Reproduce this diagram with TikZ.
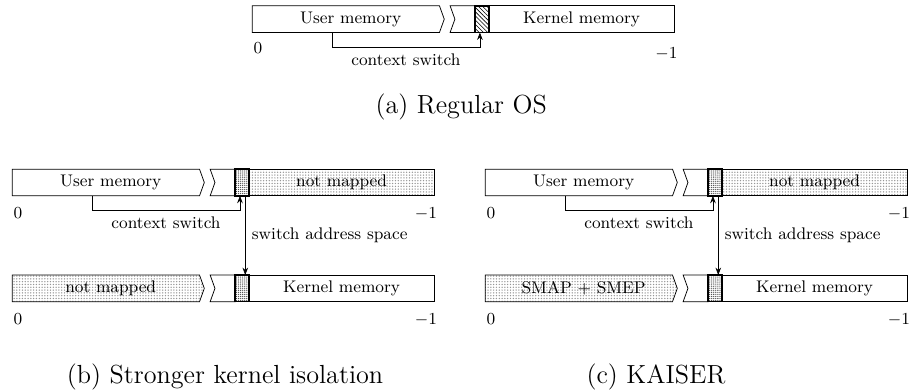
\documentclass[tikz,border=0pt]{standalone}
\usepackage{tikz}
\usetikzlibrary{positioning,patterns.meta,arrows.meta}
\definecolor{dotgray}{RGB}{150,150,150}
\definecolor{guardgray}{RGB}{70,70,70}

\tikzset{
  addrlabel/.style={font=\small, inner sep=0pt},
  caption/.style={font=\fontsize{14}{16}\selectfont},
  unmapped/.style={draw, pattern={Dots[distance=1.5pt,radius=0.4pt]}, pattern color=dotgray},
  guard/.style={draw, thick, pattern={Dots[distance=1.1pt,radius=0.35pt]}, pattern color=guardgray},
  swguard/.style={draw, thick, pattern={Lines[angle=-45,distance=1.6pt,line width=0.3pt]}},
}

\begin{document}
\begin{tikzpicture}[>={Stealth[length=4pt,width=3pt]}]
\useasboundingbox (0,0) rectangle (17.16,-7.35);

% (a) Regular OS: one address space
\begin{scope}[shift={(4.74,-0.11)}]
  \draw (0,0) -- (3.52,0) -- (3.61,-0.25) -- (3.52,-0.5) -- (0,-0.5) -- cycle;
  \draw (3.72,0) -- (4.19,0) -- (4.19,-0.5) -- (3.72,-0.5) -- (3.81,-0.25) -- cycle;
  \draw[swguard] (4.19,0) rectangle (4.45,-0.5);
  \draw (4.45,0) rectangle (7.93,-0.5);
  \node (a-user) at (1.85,-0.25) {\small User memory};
  \node (a-kernel) at (6.19,-0.25) {\small Kernel memory};
  \node[addrlabel, anchor=north west] (a-zero) at (0.02,-0.69) {$0$};
  \node[addrlabel, anchor=north east] (a-end) at (8.0,-0.78) {$-1$};
  \coordinate (a-from) at (1.5,-0.5);
  \coordinate (a-low) at (1.5,-0.78);
  \coordinate (a-to) at (4.28,-0.5);
\end{scope}
\draw[->] (a-from) -- (a-low) -| node[pos=0.25, below, font=\small] (a-cs) {context switch} (a-to);
\node[caption] (a-cap) at (8.67,-2.01) {(a) Regular OS};

% (b) and (c): user view on top, kernel view below
\foreach \p/\ox/\low in {b/0.23/not mapped, c/9.12/SMAP + SMEP} {
  % user address space
  \begin{scope}[shift={(\ox,-3.18)}]
    \draw (0,0) -- (3.52,0) -- (3.61,-0.25) -- (3.52,-0.5) -- (0,-0.5) -- cycle;
    \draw (3.72,0) -- (4.19,0) -- (4.19,-0.5) -- (3.72,-0.5) -- (3.81,-0.25) -- cycle;
    \draw[guard] (4.19,0) rectangle (4.45,-0.5);
    \draw[unmapped] (4.45,0) rectangle (7.93,-0.5);
    \node (\p-user) at (1.85,-0.25) {\small User memory};
    \node (\p-nm) at (6.19,-0.25) {\small not mapped};
    \node[addrlabel, anchor=north west] (\p-zero) at (0.02,-0.71) {$0$};
    \node[addrlabel, anchor=north east] (\p-end) at (7.99,-0.71) {$-1$};
    \coordinate (\p-from) at (1.5,-0.5);
    \coordinate (\p-low) at (1.5,-0.78);
    \coordinate (\p-to) at (4.28,-0.5);
    \coordinate (\p-sw) at (4.38,-0.5);
  \end{scope}
  % kernel address space
  \begin{scope}[shift={(\ox,-5.17)}]
    \draw[unmapped] (0,0) -- (3.52,0) -- (3.61,-0.25) -- (3.52,-0.5) -- (0,-0.5) -- cycle;
    \draw (3.72,0) -- (4.19,0) -- (4.19,-0.5) -- (3.72,-0.5) -- (3.81,-0.25) -- cycle;
    \draw[guard] (4.19,0) rectangle (4.45,-0.5);
    \draw (4.45,0) rectangle (7.93,-0.5);
    \node (\p-low-lbl) at (1.85,-0.25) {\small \low};
    \node (\p-kernel) at (6.19,-0.25) {\small Kernel memory};
    \node[addrlabel, anchor=north west] (\p-zero2) at (0.02,-0.71) {$0$};
    \node[addrlabel, anchor=north east] (\p-end2) at (7.99,-0.71) {$-1$};
    \coordinate (\p-swend) at (4.38,0);
  \end{scope}
  \draw[->] (\p-from) -- (\p-low) -| node[pos=0.25, below, font=\small] (\p-cs) {context switch} (\p-to);
  \draw[->] (\p-sw) -- node[right, font=\small] (\p-as) {switch address space} (\p-swend);
}
\node[caption] (b-cap) at (4.23,-7.09) {(b) Stronger kernel isolation};
\node[caption] (c-cap) at (12.33,-7.09) {(c) KAISER};
\end{tikzpicture}
\end{document}
